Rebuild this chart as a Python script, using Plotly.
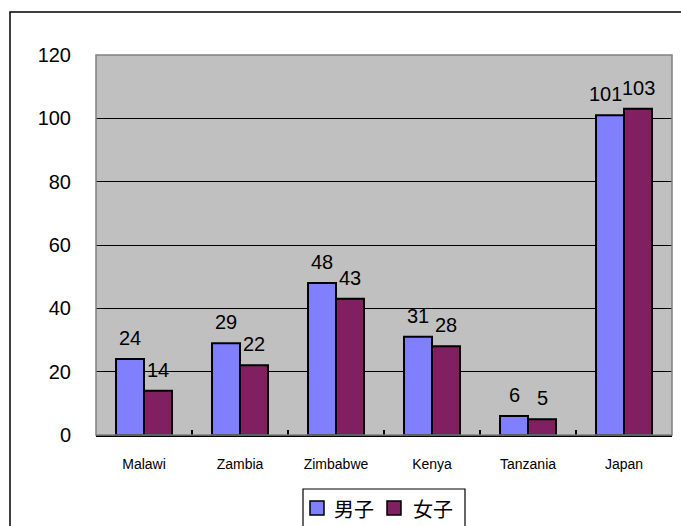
import plotly.graph_objects as go

countries = ["Malawi", "Zambia", "Zimbabwe", "Kenya", "Tanzania", "Japan"]
boys = [24, 29, 48, 31, 6, 101]
girls = [14, 22, 43, 28, 5, 103]
series_names = ["男子", "女子"]
y_ticks = [0, 20, 40, 60, 80, 100, 120]

BLUE = "#8080FF"
MAROON = "#802060"
FONT = "Liberation Sans, Arial, sans-serif"
CJK = "Noto Sans CJK JP, sans-serif"

# pixel helpers for placing decorations in paper coordinates
L, R, T, B = 96, 672, 55, 435


def px_x(px):
    return (px - L) / (R - L)


def px_y(py):
    return (B - py) / (B - T)


fig = go.Figure()
for name, vals, col in [(series_names[0], boys, BLUE), (series_names[1], girls, MAROON)]:
    fig.add_trace(go.Bar(
        x=countries, y=vals, name=name,
        marker=dict(color=col, line=dict(color="black", width=2)),
        showlegend=False,
    ))

# value labels above each bar; the tall Japan pair is nudged apart slightly
for vals, dx in [(boys, -14), (girls, 14)]:
    for c, v in zip(countries, vals):
        nudge = -5 if (c == "Japan" and dx < 0) else 0
        fig.add_annotation(
            x=c, y=v, text=str(v), showarrow=False,
            xshift=dx + nudge, yshift=8, yanchor="bottom",
            font=dict(family=FONT, size=20, color="black"),
        )

# plot-area frame and outer chart border
fig.add_shape(type="rect", xref="paper", yref="paper", x0=0, x1=1, y0=0, y1=1,
              line=dict(color="#808080", width=1.5), layer="above")
fig.add_shape(type="rect", xref="paper", yref="paper",
              x0=px_x(10), x1=px_x(760), y0=px_y(800), y1=px_y(12),
              line=dict(color="black", width=1.5))

# legend box with colour swatches
fig.add_shape(type="rect", xref="paper", yref="paper",
              x0=px_x(303), x1=px_x(465), y0=px_y(560), y1=px_y(489),
              line=dict(color="black", width=1.2), fillcolor="white")
for (sx, col, name, tx) in [(310, BLUE, series_names[0], 332), (387, MAROON, series_names[1], 411)]:
    fig.add_shape(type="rect", xref="paper", yref="paper",
                  x0=px_x(sx), x1=px_x(sx + 14), y0=px_y(515), y1=px_y(501),
                  line=dict(color="black", width=1.5), fillcolor=col)
    fig.add_annotation(xref="paper", yref="paper", x=px_x(tx), y=px_y(508),
                       text=name, showarrow=False, xanchor="left", yanchor="middle",
                       font=dict(family=CJK, size=20, color="black"))

fig.update_layout(
    width=681, height=526,
    margin=dict(l=L, r=681 - R, t=T, b=526 - B),
    paper_bgcolor="white", plot_bgcolor="#C0C0C0",
    barmode="group", bargap=0.417, bargroupgap=0,
    showlegend=False,
    xaxis=dict(
        type="category", showgrid=False,
        showline=True, linecolor="black", linewidth=2,
        ticks="inside", tickson="boundaries", ticklen=5, tickcolor="black", tickwidth=1.5,
        tickfont=dict(family=FONT, size=14, color="black"),
        ticklabelstandoff=15,
    ),
    yaxis=dict(
        range=[0, 120], tickvals=y_ticks, ticktext=[str(t) for t in y_ticks],
        showgrid=True, gridcolor="black", gridwidth=1,
        zeroline=False, showline=False, ticks="",
        tickfont=dict(family=FONT, size=20, color="black"),
        ticklabelstandoff=24,
    ),
)

fig.write_html("out.html")
